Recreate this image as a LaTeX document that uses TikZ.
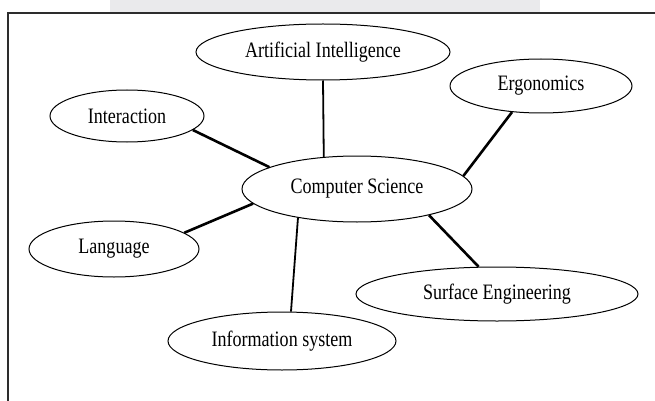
\documentclass[tikz,border=0pt]{standalone}
\usepackage{fontspec}
\setmainfont[FakeStretch=0.82]{Liberation Serif}
\usepackage{tikz}
\usetikzlibrary{shapes.geometric}
\definecolor{framegray}{RGB}{45,45,45}
\definecolor{washgray}{RGB}{234,234,236}

\begin{document}
\begin{tikzpicture}[x=1pt,y=-1pt,
  topic/.style={draw,ellipse,line width=1pt,inner sep=0pt,font=\fontsize{22}{24}\selectfont},
  link/.style={line width=2.6pt},
  thinlink/.style={line width=1.8pt}]
  \useasboundingbox (0,0) rectangle (655,401);
  % faded strip above the frame
  \fill[washgray] (110,0) rectangle (540,12);
  \draw[framegray,line width=1.6pt] (8,401) -- (8,13) -- (655,13);
  % topics
  \node[topic,minimum width=230pt,minimum height=66pt] (cs) at (357,189) {Computer Science};
  \foreach \n/\x/\y/\w/\h/\lbl in {ai/323/52/254/56/Artificial Intelligence,
      ergo/541/86/182/54/Ergonomics,
      inter/127/116/154/52/Interaction,
      lang/114/249/170/56/Language,
      surf/497/294/282/54/Surface Engineering,
      info/282/341/228/58/Information system}
    \node[topic,minimum width=\w pt,minimum height=\h pt] (\n) at (\x,\y) {\lbl};
  % spokes
  \draw[link] (inter.-12) -- (cs.166);
  \draw[thinlink] (ai.south) -- (cs.136);
  \draw[link] (ergo.-138) -- (cs.7);
  \draw[link] (lang.13) -- (cs.-172);
  \draw[thinlink] (info.73) -- (cs.-154);
  \draw[link] (surf.124) -- (cs.-20);
\end{tikzpicture}
\end{document}
